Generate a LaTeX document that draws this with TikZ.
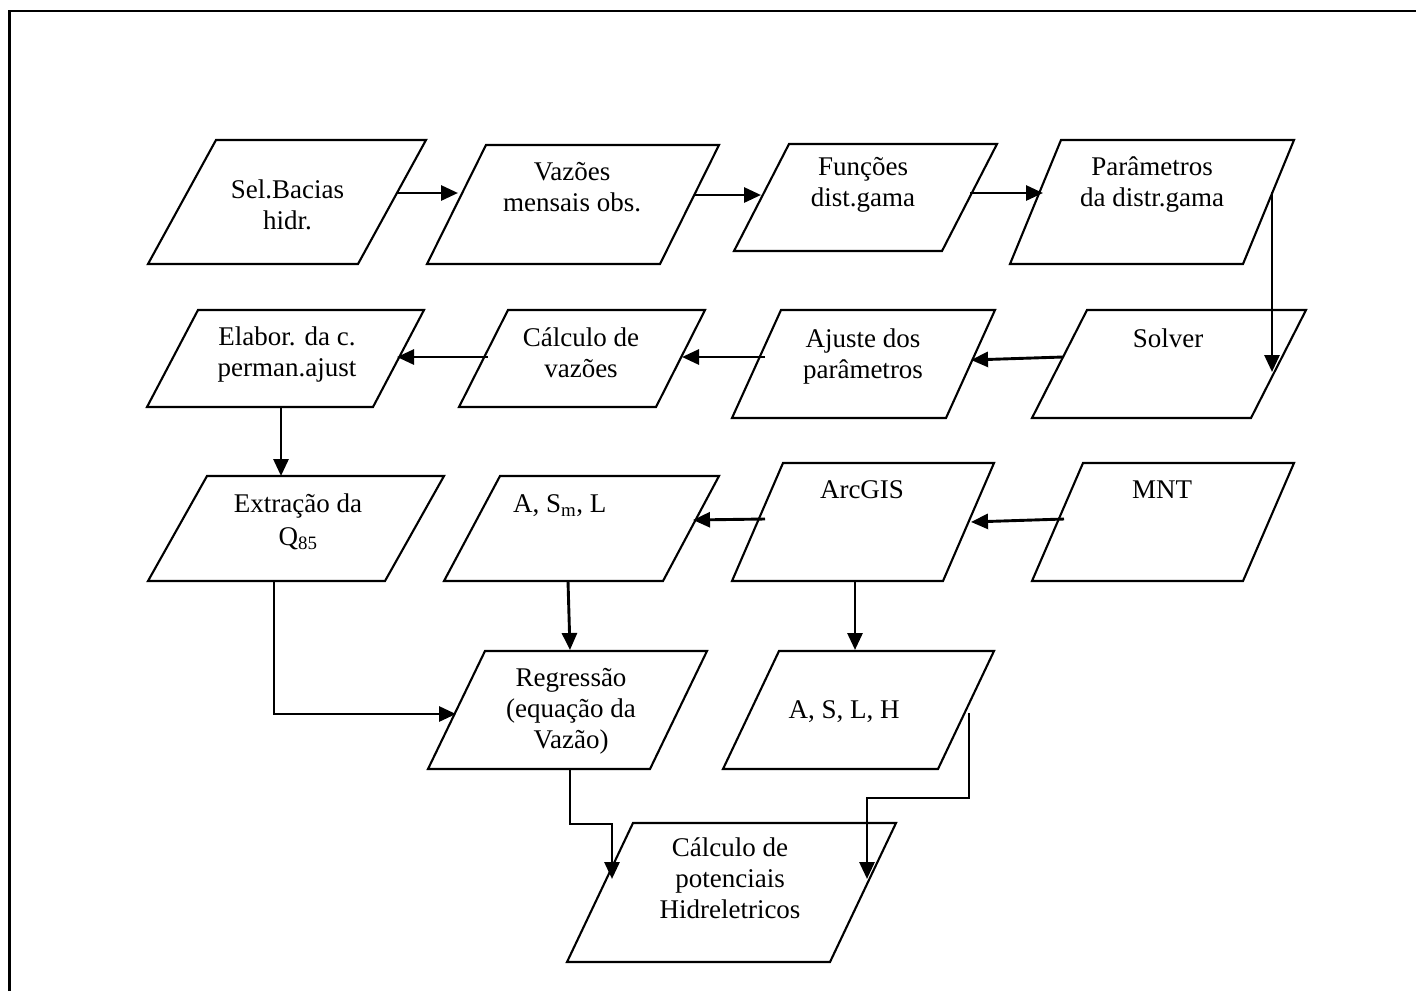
\documentclass[tikz,border=0pt]{standalone}
\usepackage{fontspec}
\setmainfont{Liberation Serif}
\usetikzlibrary{arrows.meta}
\tikzset{
  pbox/.style={draw=black, line width=2.1pt, line join=miter},
  lbl/.style={align=center, inner sep=0pt, font=\fontsize{27}{31}\selectfont},
  conn/.style={line width=2.9pt, -{Triangle[length=17pt,width=15pt]}},
  frameline/.style={line width=2.8pt}
}
% name, top-left x, width, bottom-left x, top y, bottom y
\newcommand{\pgram}[6]{%
  \draw[pbox] (#2,#5) coordinate (#1-tl) -- ++(#3,0) coordinate (#1-tr)
    -- (#4+#3,#6) coordinate (#1-br) -- (#4,#6) coordinate (#1-bl) -- cycle;}
\begin{document}
\begin{tikzpicture}[x=1pt,y=-1pt]
\useasboundingbox (0,0) rectangle (1416,991);
\draw[frameline] (9.5,991) -- (9.5,11) -- (1416,11);

% row 1
\pgram{selb}{216}{210}{148}{140}{264}
\pgram{vazb}{486}{233}{427}{145}{264}
\pgram{funb}{789}{208}{734}{144}{251}
\pgram{parb}{1061}{233}{1010}{140}{264}
% row 2
\pgram{elab}{198}{226}{147}{310}{407}
\pgram{calb}{508}{197}{459}{310}{407}
\pgram{ajub}{781}{214}{732}{310}{418}
\pgram{solb}{1087}{219}{1032}{310}{418}
% row 3
\pgram{extb}{207}{237}{148}{476}{581}
\pgram{asmb}{500}{219}{444}{476}{581}
\pgram{arcb}{783}{211}{732}{463}{581}
\pgram{mntb}{1083}{211}{1032}{463}{581}
% row 4
\pgram{regb}{485}{222}{428}{651}{769}
\pgram{aslb}{779}{215}{723}{651}{769}
% row 5
\pgram{potb}{633}{263}{567}{823}{962}

% labels
\node[lbl] (sel) at (287.5,205) {Sel.Bacias\\hidr.};
\node[lbl] (vaz) at (572,187.5) {Vazões\\mensais obs.};
\node[lbl] (fun) at (863,185) {Funções\\dist.gama};
\node[lbl] (par) at (1152,185) {Parâmetros\\da distr.gama};
\node[lbl] (ela) at (287,355) {Elabor. da c.\\perman.ajust};
\node[lbl] (cal) at (581,352.5) {Cálculo de\\vazões};
\node[lbl] (aju) at (863,356) {Ajuste dos\\parâmetros};
\node[lbl] (sol) at (1168,338) {Solver};
\node[lbl] (ext) at (298,522) {Extração da\\[2pt]Q\textsubscript{85}};
\node[lbl, anchor=west] (asm) at (513,506) {A, S\textsubscript{m}, L};
\node[lbl] (arc) at (862,490) {ArcGIS};
\node[lbl] (mnt) at (1162,490) {MNT};
\node[lbl] (reg) at (571,711) {Regressão\\(equação da\\Vazão)};
\node[lbl] (asl) at (844,712) {A, S, L, H};
\node[lbl] (pot) at (730,878) {Cálculo de\\potenciais\\Hidreletricos};

% connector ports
\coordinate (p1a) at (396,193);  \coordinate (p1b) at (458,193);
\coordinate (p2a) at (694,195);  \coordinate (p2b) at (761,195);
\coordinate (p3a) at (970,193);  \coordinate (p3b) at (1043,193);
\coordinate (p4a) at (1272,192); \coordinate (p4b) at (1272,372);
\coordinate (p5a) at (1063,357); \coordinate (p5b) at (971,360);
\coordinate (p6a) at (765,357);  \coordinate (p6b) at (682,357);
\coordinate (p7a) at (488,357);  \coordinate (p7b) at (397,357);
\coordinate (p8a) at (281,407);  \coordinate (p8b) at (281,476);
\coordinate (p9a) at (1064,519); \coordinate (p9b) at (971,522);
\coordinate (p10a) at (765,519); \coordinate (p10b) at (693,520);
\coordinate (p11a) at (274,581); \coordinate (p11b) at (456,714);
\coordinate (p12a) at (568,581); \coordinate (p12b) at (570,650);
\coordinate (p13a) at (855,581); \coordinate (p13b) at (855,650);
\coordinate (p14a) at (570,769); \coordinate (p14b) at (612,879);
\coordinate (p15a) at (969,713); \coordinate (p15b) at (867,879);

\draw[conn] (p1a) -- (p1b);
\draw[conn] (p2a) -- (p2b);
\draw[conn] (p3a) -- (p3b);
\draw[conn] (p4a) -- (p4b);
\draw[conn] (p5a) -- (p5b);
\draw[conn] (p6a) -- (p6b);
\draw[conn] (p7a) -- (p7b);
\draw[conn] (p8a) -- (p8b);
\draw[conn] (p9a) -- (p9b);
\draw[conn] (p10a) -- (p10b);
\draw[conn] (p11a) |- (p11b);
\draw[conn] (p12a) -- (p12b);
\draw[conn] (p13a) -- (p13b);
\draw[conn] (p14a) -- (570,824) -| (p14b);
\draw[conn] (p15a) -- (969,798) -| (p15b);
\end{tikzpicture}
\end{document}
